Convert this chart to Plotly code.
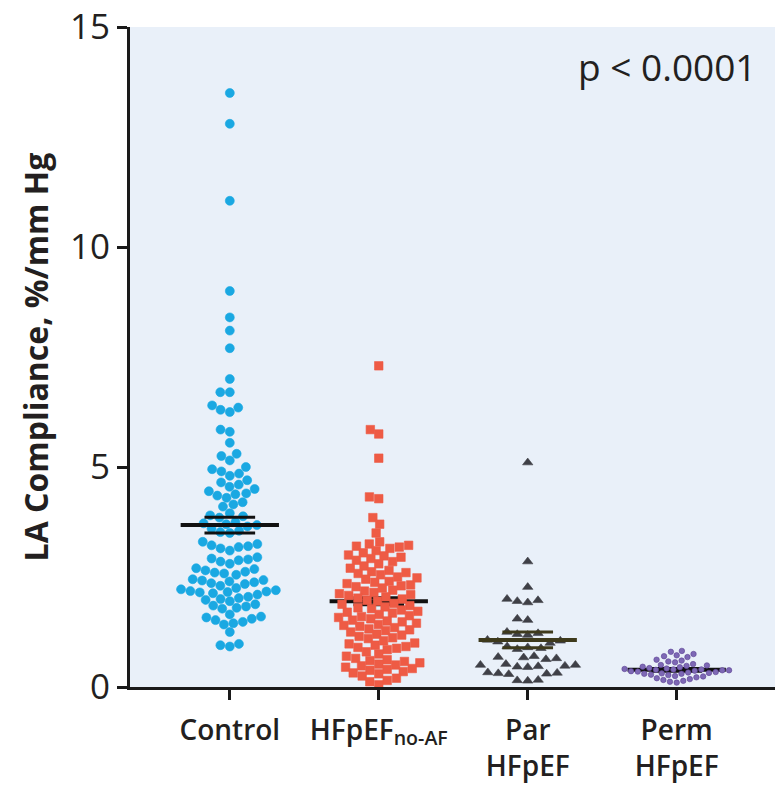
import math
import numpy as np
import plotly.graph_objects as go

# ---------------- data ----------------
categories = ["Control", "HFpEF<sub>no-AF</sub>", "Par<br>HFpEF", "Perm<br>HFpEF"]

control = [13.5, 12.8, 11.05, 9.0, 8.4, 8.1, 7.7, 7.0, 6.7, 6.7, 6.4, 6.35, 6.3, 6.25,
           5.85, 5.8, 5.55, 5.3, 5.25, 5.15, 5.0, 4.95, 4.9, 4.85, 4.8, 4.7, 4.65, 4.6,
           4.55, 4.5, 4.45, 4.4, 4.38, 4.35, 4.3, 4.2, 4.15, 4.1, 3.95, 3.9, 3.88, 3.85,
           3.75, 3.72, 3.7, 3.68, 3.65, 3.6, 3.55, 3.52, 3.5, 3.3, 3.25, 3.22, 3.2, 3.18,
           3.15, 3.1, 2.95, 2.92, 2.9, 2.88, 2.85, 2.8, 2.7, 2.68, 2.65, 2.62, 2.6, 2.58,
           2.55, 2.45, 2.43, 2.42, 2.4, 2.38, 2.36, 2.34, 2.3, 2.25, 2.22, 2.2, 2.18, 2.17,
           2.16, 2.15, 2.13, 2.1, 2.05, 2.02, 2.0, 1.98, 1.95, 1.88, 1.85, 1.83, 1.8, 1.78,
           1.65, 1.6, 1.58, 1.55, 1.52, 1.48, 1.45, 1.42, 1.25, 0.98, 0.95, 0.92]

hfpef_no_af = [7.3, 5.85, 5.75, 5.2, 4.32, 4.28, 3.85, 3.7, 3.5, 3.3, 3.25, 3.22, 3.2, 3.18,
               3.15, 3.1, 3.05, 3.0, 2.98, 2.95, 2.92, 2.88, 2.85, 2.8, 2.75, 2.7, 2.65, 2.62,
               2.6, 2.58, 2.55, 2.5, 2.48, 2.45, 2.4, 2.38, 2.35, 2.32, 2.3, 2.28, 2.25, 2.2,
               2.18, 2.15, 2.12, 2.1, 2.08, 2.05, 2.02, 2.0, 1.97, 1.95, 1.9, 1.88, 1.85, 1.82,
               1.8, 1.78, 1.75, 1.72, 1.7, 1.68, 1.65, 1.62, 1.6, 1.58, 1.55, 1.52, 1.5, 1.48,
               1.45, 1.42, 1.4, 1.38, 1.35, 1.32, 1.3, 1.28, 1.25, 1.2, 1.18, 1.15, 1.12, 1.1,
               1.05, 1.0, 0.98, 0.95, 0.92, 0.9, 0.88, 0.85, 0.8, 0.75, 0.7, 0.65, 0.62, 0.6,
               0.58, 0.55, 0.52, 0.5, 0.48, 0.45, 0.42, 0.4, 0.38, 0.35, 0.32, 0.3, 0.25, 0.2,
               0.15, 0.12, 0.05]

par_hfpef = [5.1, 2.85, 2.27, 2.0, 1.97, 1.95, 1.92, 1.55, 1.52, 1.25, 1.22, 1.2, 1.18,
             1.07, 1.05, 1.03, 1.0, 0.92, 0.9, 0.88, 0.86, 0.7, 0.68, 0.67, 0.65, 0.63,
             0.52, 0.5, 0.5, 0.48, 0.47, 0.46, 0.45, 0.33, 0.32, 0.31, 0.3, 0.29, 0.16,
             0.15, 0.14]

perm_hfpef = [0.82, 0.8, 0.75, 0.72, 0.7, 0.68, 0.62, 0.6, 0.58, 0.56, 0.52, 0.5, 0.49,
              0.48, 0.46, 0.45, 0.43, 0.42, 0.41, 0.4, 0.4, 0.39, 0.38, 0.38, 0.37, 0.36,
              0.35, 0.34, 0.33, 0.32, 0.31, 0.3, 0.3, 0.28, 0.27, 0.25, 0.24, 0.22, 0.2,
              0.18, 0.16, 0.14, 0.12, 0.1]

group_means = [3.68, 1.95, 1.07, 0.39]
group_sems = [0.18, 0.08, 0.18, 0.03]

y_ticks = [0, 5, 10, 15]
p_text = "p < 0.0001"

# ---------------- layout constants ----------------
# body margin is removed below, so the figure fills the whole window
W, H = 775, 787
M_L, M_R, M_T, M_B = 130, 0, 27, 100
X_RANGE = [-0.67, 3.66]
Y_RANGE = [0, 15]
X_PX = (W - M_L - M_R) / (X_RANGE[1] - X_RANGE[0])
Y_PX = (H - M_T - M_B) / (Y_RANGE[1] - Y_RANGE[0])


def beeswarm(values, diam):
    """Deterministic beeswarm: returns x-offsets (data units) for each value."""
    vals = np.asarray(values, dtype=float)
    order = np.argsort(vals, kind="stable")
    placed = []
    offs = np.zeros(len(vals))
    for i in order:
        y = vals[i] * Y_PX
        cands = [0.0]
        for (px, py) in placed:
            dy = abs(py - y)
            if dy < diam:
                dx = math.sqrt(diam ** 2 - dy ** 2)
                cands += [px + dx, px - dx]
        cands.sort(key=lambda c: (abs(c), c))
        for c in cands:
            if all((c - px) ** 2 + (y - py) ** 2 >= diam ** 2 - 1e-6 for px, py in placed):
                offs[i] = c
                break
        placed.append((offs[i], y))
    return offs / X_PX


groups = [
    dict(vals=control, color="#1aa8e2", line="#1aa8e2", symbol="circle", size=9, diam=9.5),
    dict(vals=hfpef_no_af, color="#ee5b45", line="#ee5b45", symbol="square", size=8.5, diam=9.5),
    dict(vals=par_hfpef, color="#3f4047", line="#3f4047", symbol="triangle-up", size=9, diam=10.5),
    dict(vals=perm_hfpef, color="#7d68b5", line="#5b3f92", symbol="circle", size=5.5, diam=6.8),
]

fig = go.Figure()


def add_mean(idx, color):
    m, s = group_means[idx], group_sems[idx]
    fig.add_trace(go.Scatter(x=[idx - 0.33, idx + 0.33], y=[m, m], mode="lines",
                             line=dict(color=color, width=4), hoverinfo="skip", showlegend=False))
    for v in (m - s, m + s):
        fig.add_trace(go.Scatter(x=[idx - 0.17, idx + 0.17], y=[v, v], mode="lines",
                                 line=dict(color=color, width=3), hoverinfo="skip", showlegend=False))


mean_colors = ["#111111", "#111111", "#3e3a1c", "#111111"]
on_top = [True, False, True, False]

for idx, g in enumerate(groups):
    if not on_top[idx]:
        add_mean(idx, mean_colors[idx])
    offs = beeswarm(g["vals"], g["diam"])
    fig.add_trace(go.Scatter(
        x=idx + offs, y=g["vals"], mode="markers",
        marker=dict(color=g["color"], symbol=g["symbol"], size=g["size"],
                    line=dict(color=g["line"], width=0.6)),
        showlegend=False, hoverinfo="y"))
    if on_top[idx]:
        add_mean(idx, mean_colors[idx])

FONT = "Open Sans, Noto Sans, sans-serif"
TXT = "#231f20"

fig.update_layout(
    width=W, height=H,
    margin=dict(l=M_L, r=M_R, t=M_T, b=M_B),
    paper_bgcolor="white",
    plot_bgcolor="#e9f0f9",
    font=dict(family=FONT, color=TXT),
    showlegend=False,
    xaxis=dict(range=X_RANGE, tickvals=list(range(len(categories))), ticktext=categories,
               showgrid=False, zeroline=False, showline=True, linecolor="#1a1a1a", linewidth=3,
               ticks="outside", ticklen=10, tickwidth=3, tickcolor="#1a1a1a",
               automargin=False, ticklabelstandoff=6,
               tickfont=dict(size=28, family=FONT, color=TXT, weight=600)),
    yaxis=dict(range=Y_RANGE, tickvals=y_ticks, showgrid=False, zeroline=False,
               showline=True, linecolor="#1a1a1a", linewidth=3,
               ticks="outside", ticklen=10, tickwidth=3, tickcolor="#1a1a1a",
               ticklabeloverflow="allow", automargin=False,
               tickfont=dict(size=35, family=FONT, color=TXT, weight=500),
               title=dict(text="<b>LA Compliance, %/mm Hg</b>", standoff=12,
                          font=dict(size=32, family=FONT, color=TXT))),
)

fig.add_annotation(x=0.975, y=0.94, xref="paper", yref="paper", text=p_text,
                   showarrow=False, xanchor="right", yanchor="middle",
                   font=dict(size=37, family=FONT, color=TXT, weight=500))

fig.write_html("out.html", config={"displayModeBar": False},
               post_script="document.body.style.margin='0';document.body.style.overflow='hidden';")
